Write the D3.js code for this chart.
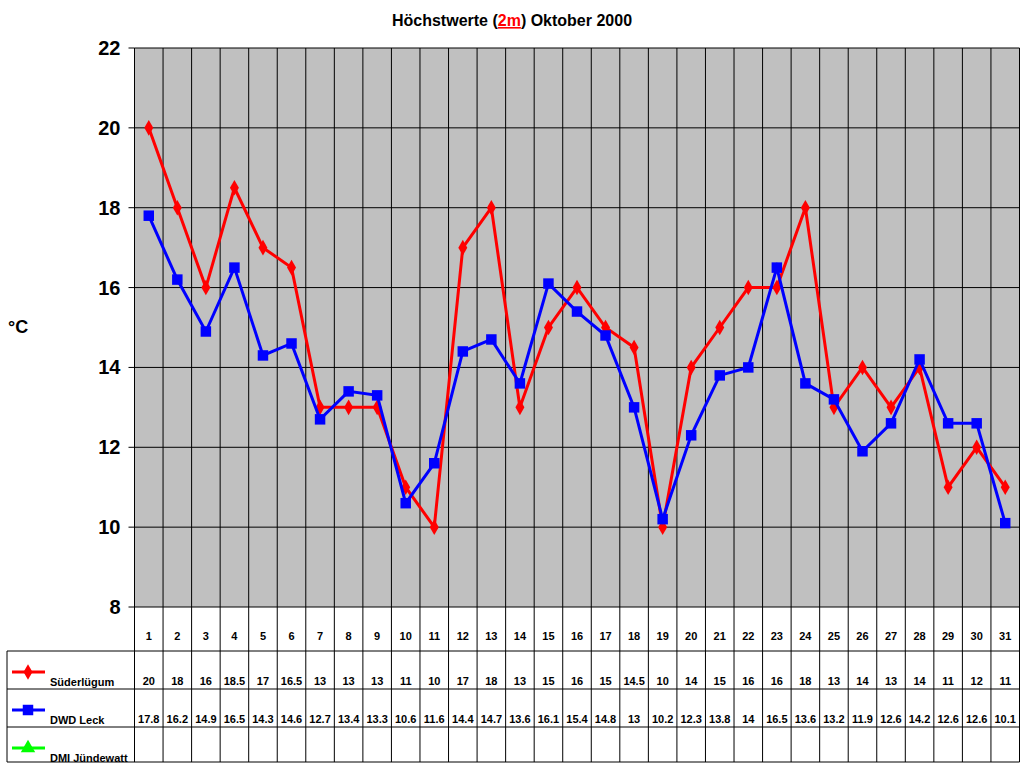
<!DOCTYPE html>
<html>
<head>
<meta charset="utf-8">
<script src="https://d3js.org/d3.v7.min.js"></script>
<style>body{margin:0;background:#fff}text{font-family:Arial,"Liberation Sans",sans-serif;font-weight:bold}</style>
</head>
<body>
<script>
var days = d3.range(1, 32);
var suederluegum = [20,18,16,18.5,17,16.5,13,13,13,11,10,17,18,13,15,16,15,14.5,10,14,15,16,16,18,13,14,13,14,11,12,11];
var dwdLeck = [17.8,16.2,14.9,16.5,14.3,14.6,12.7,13.4,13.3,10.6,11.6,14.4,14.7,13.6,16.1,15.4,14.8,13,10.2,12.3,13.8,14,16.5,13.6,13.2,11.9,12.6,14.2,12.6,12.6,10.1];
var dmiJuendewatt = [];
var yTicks = [8,10,12,14,16,18,20,22];

var svg = d3.select("body").append("svg").attr("width",1024).attr("height",768);
var L = 134.5, R = 1019.5, T = 48, B = 607;
var x = d3.scaleBand().domain(days).range([L,R]);
var y = d3.scaleLinear().domain([8,22]).range([B,T]);

svg.append("text").attr("x",512).attr("y",26).attr("text-anchor","middle").attr("font-size",16)
  .selectAll("tspan").data([["Höchstwerte (","#000",null],["2m","#f00","underline"],[") Oktober 2000","#000",null]])
  .enter().append("tspan").text(d=>d[0]).attr("fill",d=>d[1]).attr("text-decoration",d=>d[2]);

svg.append("rect").attr("x",L).attr("y",T).attr("width",R-L).attr("height",B-T).attr("fill","#c0c0c0");
svg.selectAll(".hg").data(yTicks).enter().append("line").attr("x1",L).attr("x2",R)
  .attr("y1",d=>y(d)).attr("y2",d=>y(d)).attr("stroke","#000");
// vertical lines through plot and table
var rows = [607,651,689,727,762];
svg.selectAll(".vg").data(d3.range(0,32)).enter().append("line")
  .attr("x1",i=>L+i*x.bandwidth()).attr("x2",i=>L+i*x.bandwidth())
  .attr("y1",T).attr("y2",762).attr("stroke","#000");
svg.selectAll(".tick").data(yTicks).enter().append("line").attr("x1",L-6).attr("x2",L)
  .attr("y1",d=>y(d)).attr("y2",d=>y(d)).attr("stroke","#000");
svg.selectAll(".yl").data(yTicks).enter().append("text").attr("x",L-14).attr("y",d=>y(d)+7)
  .attr("text-anchor","end").attr("font-size",20).text(d=>d);
svg.append("text").attr("x",8).attr("y",333).attr("font-size",18).text("°C");

// table
svg.selectAll(".hr").data(rows.slice(1)).enter().append("line").attr("x1",7).attr("x2",R)
  .attr("y1",d=>d).attr("y2",d=>d).attr("stroke","#000");
svg.append("line").attr("x1",7).attr("x2",7).attr("y1",651).attr("y2",762).attr("stroke","#000");
svg.selectAll(".dl").data(days).enter().append("text").attr("x",d=>x(d)+x.bandwidth()/2).attr("y",640)
  .attr("text-anchor","middle").attr("font-size",11).text(d=>d);

var series = [
  {name:"Süderlügum", vals:suederluegum, color:"#f00", shape:d3.symbolDiamond, size:70},
  {name:"DWD Leck", vals:dwdLeck, color:"#00f", shape:d3.symbolSquare, size:110},
  {name:"DMI Jündewatt", vals:dmiJuendewatt, color:"#0f0", shape:d3.symbolTriangle, size:90}
];
var line = d3.line().x((d,i)=>x(days[i])+x.bandwidth()/2).y(d=>y(d));
series.forEach(function(s,k){
  var ry = rows[k+1];
  svg.append("line").attr("x1",12).attr("x2",45).attr("y1",ry+21).attr("y2",ry+21).attr("stroke",s.color).attr("stroke-width",3);
  svg.append("path").attr("d",d3.symbol().type(s.shape).size(s.size)).attr("fill",s.color)
    .attr("transform","translate(28,"+(ry+21)+")");
  svg.append("text").attr("x",50).attr("y",ry+35).attr("font-size",11).text(s.name);
  svg.selectAll(".v"+k).data(s.vals).enter().append("text")
    .attr("x",(d,i)=>x(days[i])+x.bandwidth()/2).attr("y",ry+34).attr("text-anchor","middle")
    .attr("font-size",11).text(d=>d);
  if (!s.vals.length) return;
  svg.append("path").datum(s.vals).attr("d",line).attr("fill","none").attr("stroke",s.color).attr("stroke-width",3);
  svg.selectAll(".m"+k).data(s.vals).enter().append("path")
    .attr("d",d3.symbol().type(s.shape).size(s.size)).attr("fill",s.color)
    .attr("transform",(d,i)=>"translate("+(x(days[i])+x.bandwidth()/2)+","+y(d)+")");
});
</script>
</body>
</html>
